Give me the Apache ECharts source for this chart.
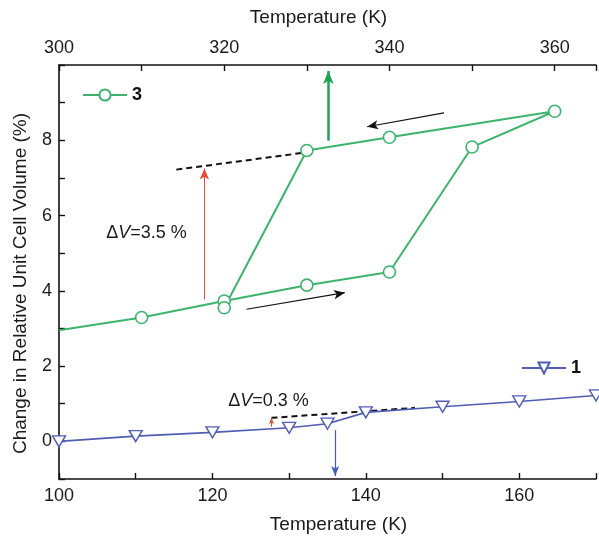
<!DOCTYPE html>
<html>
<head>
<meta charset="utf-8">
<script src="https://cdn.jsdelivr.net/npm/echarts@6/dist/echarts.min.js"></script>
<style>html,body{margin:0;padding:0;background:#fff}#c{width:599px;height:539px}</style>
</head>
<body>
<div id="c"></div>
<script>
// ---- data ----
// compound 3 (top axis, 300-365 K): heating then cooling
const temps3 = [300, 310, 320, 330, 340, 350, 360, 340, 330, 320];
const vals3  = [2.95, 3.29, 3.73, 4.15, 4.50, 7.82, 8.77, 8.08, 7.73, 3.55];
// compound 1 (bottom axis, 100-170 K)
const temps1 = [100, 110, 120, 130, 135, 140, 150, 160, 170];
const vals1  = [0.00, 0.14, 0.24, 0.36, 0.47, 0.77, 0.92, 1.06, 1.22];
// tick labels
const bottomTicks = [100, 120, 140, 160];
const topTicks = [300, 320, 340, 360];
const yTicks = [0, 2, 4, 6, 8];
// annotations (data coordinates)
const dash3 = [[314.2, 7.22], [330, 7.68]];
const dash1 = [[127.7, 0.625], [146.4, 0.89]];
const redArrow3 = [[317.6, 3.77], [317.6, 7.25]];
const greenArrow3 = [[332.6, 7.99], [332.6, 9.84]];
const heatArrow3 = [[322.7, 3.51], [334.6, 3.95]];
const coolArrow3 = [[346.6, 8.73], [337.3, 8.36]];
const redArrow1 = [[127.7, 0.39], [127.7, 0.62]];
const blueArrow1 = [[136, 0.3], [136, -0.92]];
const label3 = [310.6, 5.54];
const label1 = [127.3, 1.06];

const GREEN = '#3db46d', BLUE = '#4f5db5', RED = '#e84a33', FONT = 'Liberation Sans, Arial, sans-serif';

const chart = echarts.init(document.getElementById('c'));

function arrow(pts, color, width, size) {
  return [{coord: pts[0], lineStyle: {color: color, width: width, type: 'solid'}, symbol: 'none'},
          {coord: pts[1], symbol: 'arrow', symbolSize: size}];
}
function dvLabel(txt) {
  return {
    show: true, position: 'inside', color: '#1a1a1a',
    formatter: '{a|Δ}{b|V}{a|=' + txt + ' %}',
    rich: {a: {fontSize: 18, fontFamily: FONT, color: '#1a1a1a'}, b: {fontSize: 18, fontFamily: FONT, fontStyle: 'italic', color: '#1a1a1a'}}
  };
}

const axisCommon = {
  type: 'value',
  axisLine: {show: true, onZero: false, lineStyle: {color: '#111', width: 1.6}},
  axisTick: {show: true, inside: true, length: 6, lineStyle: {color: '#111', width: 1.4}},
  splitLine: {show: false},
  axisLabel: {fontSize: 18, fontFamily: FONT, color: '#1a1a1a'},
  nameTextStyle: {fontSize: 19, fontFamily: FONT, color: '#1a1a1a'}
};

chart.setOption({
  animation: false,
  backgroundColor: '#fff',
  grid: {left: 59, top: 65, width: 542, bottom: 57, containLabel: false},
  legend: [
    {data: ['3'], left: 77, top: 81, itemWidth: 44, itemHeight: 14, textStyle: {fontSize: 18, fontWeight: 'bold', fontFamily: FONT, color: '#111'}},
    {data: ['1'], left: 516, top: 354, itemWidth: 44, itemHeight: 14, textStyle: {fontSize: 18, fontWeight: 'bold', fontFamily: FONT, color: '#111'}}
  ],
  xAxis: [
    Object.assign({}, axisCommon, {
      position: 'bottom', min: 100, max: 170, interval: 10,
      name: 'Temperature (K)', nameLocation: 'middle', nameGap: 36,
      nameTextStyle: Object.assign({}, axisCommon.nameTextStyle, {padding: [0, 0, 0, 22]}),
      axisLabel: Object.assign({}, axisCommon.axisLabel, {formatter: v => bottomTicks.includes(v) ? String(v) : ''})
    }),
    Object.assign({}, axisCommon, {
      position: 'top', min: 300, max: 365, interval: 10,
      name: 'Temperature (K)', nameLocation: 'middle', nameGap: 38,
      nameTextStyle: Object.assign({}, axisCommon.nameTextStyle, {padding: [0, 18, 0, 0]}),
      axisLabel: Object.assign({}, axisCommon.axisLabel, {formatter: v => topTicks.includes(v) ? String(v) : ''})
    })
  ],
  yAxis: [
    Object.assign({}, axisCommon, {
      min: -1, max: 10, interval: 1,
      name: 'Change in Relative Unit Cell Volume (%)', nameLocation: 'middle', nameGap: 29,
      nameTextStyle: Object.assign({}, axisCommon.nameTextStyle, {padding: [0, 23, 0, 0]}),
      axisLabel: Object.assign({}, axisCommon.axisLabel, {margin: 7, formatter: v => yTicks.includes(v) ? String(v) : ''})
    })
  ],
  series: [
    {
      name: '3', type: 'line', xAxisIndex: 1, yAxisIndex: 0,
      data: temps3.map((t, i) => i === 0 ? {value: [t, vals3[i]], symbol: 'none'} : [t, vals3[i]]),
      symbol: 'circle', symbolSize: 12,
      itemStyle: {color: '#fff', borderColor: GREEN, borderWidth: 1.6},
      lineStyle: {color: GREEN, width: 2},
      z: 3
    },
    {
      name: '1', type: 'line', xAxisIndex: 0, yAxisIndex: 0,
      data: temps1.map((t, i) => [t, vals1[i]]),
      symbol: 'triangle', symbolRotate: 180, symbolSize: [13, 11],
      itemStyle: {color: '#fff', borderColor: BLUE, borderWidth: 1.4},
      lineStyle: {color: BLUE, width: 1.6},
      z: 3
    },
    {
      type: 'line', xAxisIndex: 1, yAxisIndex: 0, silent: true, symbol: 'none',
      data: dash3, lineStyle: {color: '#111', width: 2, type: [6, 4]}, z: 2,
      markLine: {
        silent: true, symbol: ['none', 'arrow'], label: {show: false},
        data: [arrow(redArrow3, RED, 1, [7, 11]), arrow(greenArrow3, '#1fa456', 2.5, [8, 13]),
               arrow(heatArrow3, '#111', 1.2, [7, 11]), arrow(coolArrow3, '#111', 1.2, [7, 11])]
      }
    },
    {
      type: 'line', xAxisIndex: 0, yAxisIndex: 0, silent: true, symbol: 'none',
      data: dash1, lineStyle: {color: '#111', width: 2, type: [6, 4]}, z: 2,
      markLine: {
        silent: true, symbol: ['none', 'arrow'], label: {show: false},
        data: [arrow(redArrow1, RED, 1.2, [4, 6]), arrow(blueArrow1, '#3d5fc4', 1.2, [6, 10])]
      }
    },
    {
      type: 'scatter', xAxisIndex: 1, yAxisIndex: 0, silent: true,
      symbolSize: 1, itemStyle: {color: 'rgba(0,0,0,0)', opacity: 1},
      data: [label3], label: dvLabel('3.5')
    },
    {
      type: 'scatter', xAxisIndex: 0, yAxisIndex: 0, silent: true,
      symbolSize: 1, itemStyle: {color: 'rgba(0,0,0,0)', opacity: 1},
      data: [label1], label: dvLabel('0.3')
    }
  ]
});
</script>
</body>
</html>
